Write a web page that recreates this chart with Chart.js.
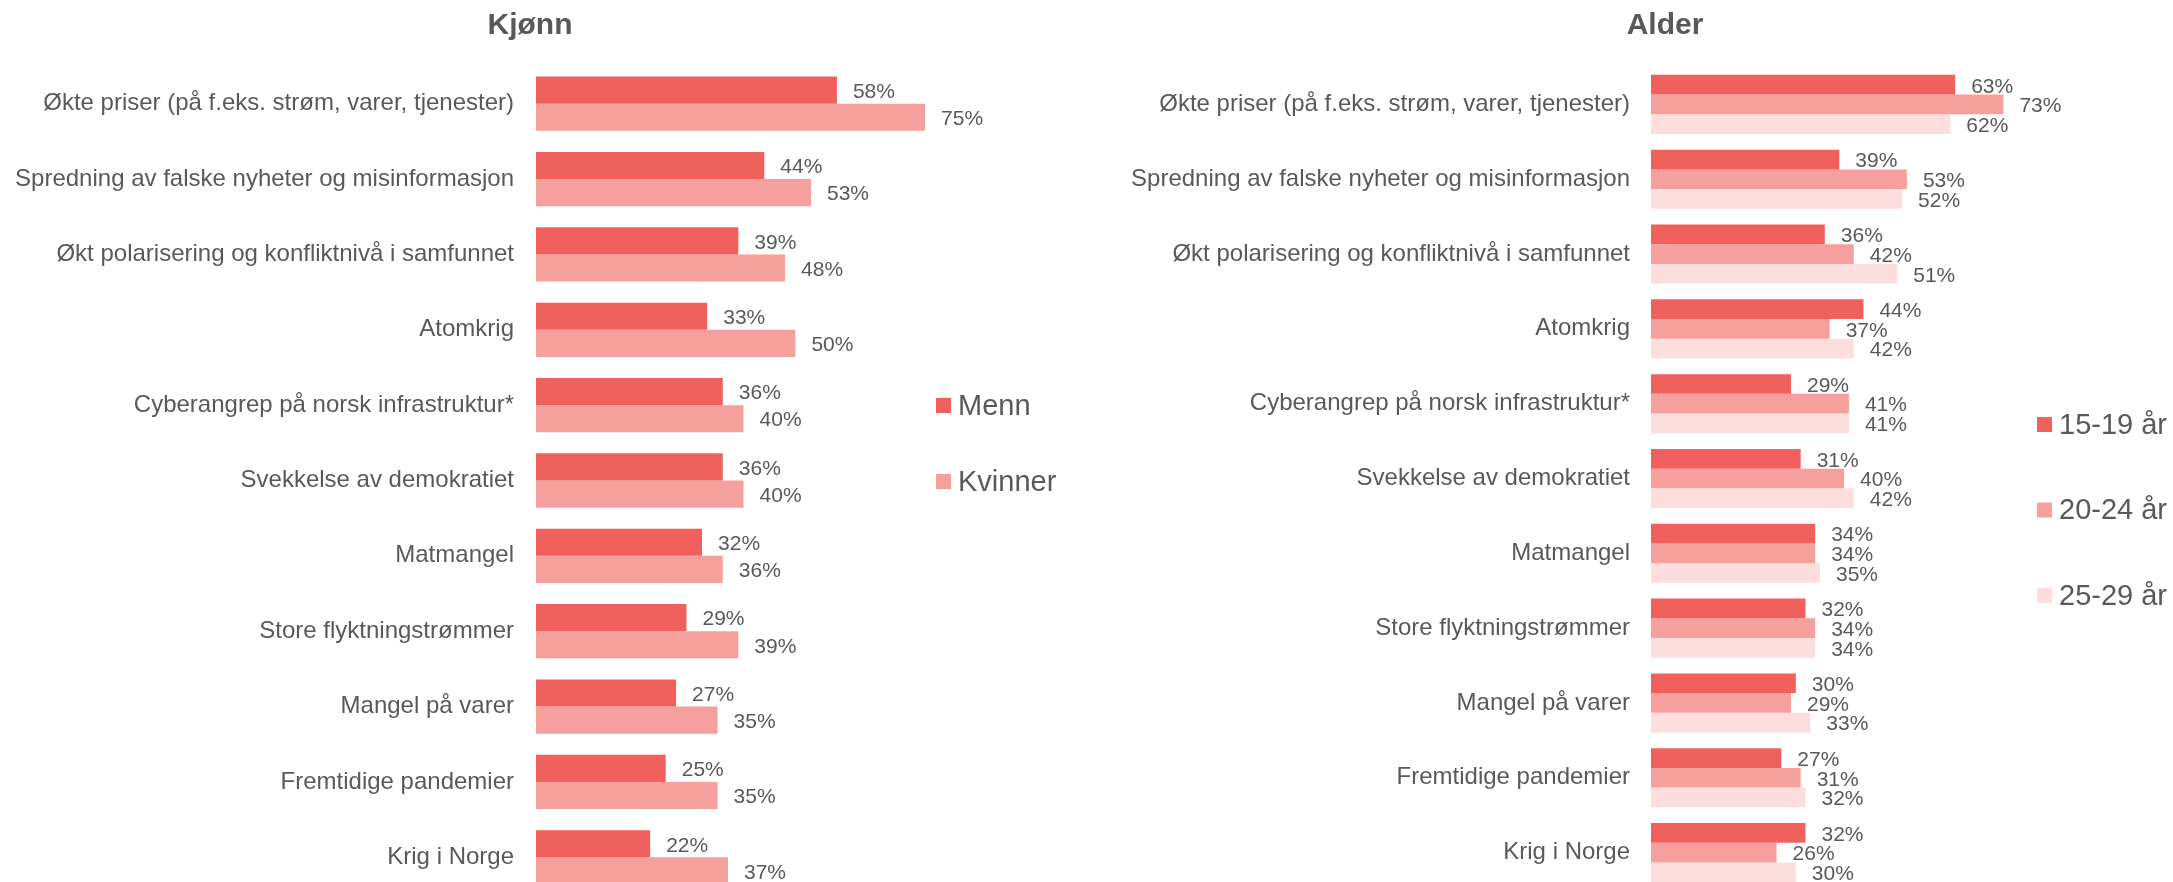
<!DOCTYPE html>
<html lang="no">
<head>
<meta charset="utf-8">
<title>Bekymringer etter kjønn og alder</title>
<script src="https://cdn.jsdelivr.net/npm/chart.js@4.4.1/dist/chart.umd.min.js"></script>
<style>
    html, body {
        margin: 0;
        padding: 0;
        width: 2173px;
        height: 882px;
        overflow: hidden;
        background: #ffffff;
    }
    .panel {
        position: absolute;
        top: 0;
    }
</style>
</head>
<body>
<div class="panel" style="left: 0px"><canvas id="kjonn" width="1060" height="895"></canvas></div>
<div class="panel" style="left: 1090px"><canvas id="alder" width="1150" height="890"></canvas></div>

<script>
const categories = [
    'Økte priser (på f.eks. strøm, varer, tjenester)',
    'Spredning av falske nyheter og misinformasjon',
    'Økt polarisering og konfliktnivå i samfunnet',
    'Atomkrig',
    'Cyberangrep på norsk infrastruktur*',
    'Svekkelse av demokratiet',
    'Matmangel',
    'Store flyktningstrømmer',
    'Mangel på varer',
    'Fremtidige pandemier',
    'Krig i Norge'
]

const menn = [58, 44, 39, 33, 36, 36, 32, 29, 27, 25, 22]
const kvinner = [75, 53, 48, 50, 40, 40, 36, 39, 35, 35, 37]

const alder1519 = [63, 39, 36, 44, 29, 31, 34, 32, 30, 27, 32]
const alder2024 = [73, 53, 42, 37, 41, 40, 34, 34, 29, 31, 26]
const alder2529 = [62, 52, 51, 42, 41, 42, 35, 34, 33, 32, 30]

const textColor = '#595959'
const fontFamily = '"Liberation Sans", Arial, Helvetica, sans-serif'
const colors = ['#F0605D', '#F6A09D', '#FCDEDF']

// values printed to the right of each bar
const valueLabels = {
    id: 'valueLabels',
    afterDatasetsDraw(chart, args, opts) {
        const ctx = chart.ctx
        ctx.save()
        ctx.font = `${opts.size}px ${fontFamily}`
        ctx.fillStyle = textColor
        ctx.textAlign = 'left'
        ctx.textBaseline = 'middle'
        chart.data.datasets.forEach((ds, i) => {
            chart.getDatasetMeta(i).data.forEach((bar, j) => {
                ctx.fillText(ds.data[j] + '%', bar.x + opts.gap, bar.y + 2)
            })
        })
        ctx.restore()
    }
}

// vertical legend placed beside the bars, like the original
const sideLegend = {
    id: 'sideLegend',
    afterDraw(chart, args, opts) {
        const ctx = chart.ctx
        ctx.save()
        ctx.font = `${opts.size}px ${fontFamily}`
        ctx.textAlign = 'left'
        ctx.textBaseline = 'middle'
        chart.data.datasets.forEach((ds, i) => {
            const top = opts.top + i * opts.spacing
            ctx.fillStyle = ds.backgroundColor
            ctx.fillRect(opts.x, top, opts.box, opts.box)
            ctx.fillStyle = textColor
            ctx.fillText(ds.label, opts.x + opts.box + opts.textGap, top + opts.box / 2 + 1)
        })
        ctx.restore()
    }
}

const buildChart = (id, title, dataSets, cfg) => new Chart(document.getElementById(id), {
    type: 'bar',
    data: {
        labels: categories,
        datasets: dataSets.map((ds, i) => ({
            label: ds.label,
            data: ds.data,
            backgroundColor: colors[i],
            borderWidth: 0,
            barPercentage: 1,
            categoryPercentage: cfg.categoryPercentage
        }))
    },
    options: {
        indexAxis: 'y',
        responsive: false,
        animation: false,
        layout: {padding: 0},
        plugins: {
            legend: {display: false},
            tooltip: {enabled: false},
            title: {
                display: true,
                text: title,
                color: textColor,
                font: {family: fontFamily, size: 30, weight: 'bold'},
                padding: {top: 8, bottom: cfg.titleBottom}
            },
            valueLabels: {size: 21, gap: 16},
            sideLegend: cfg.legend
        },
        scales: {
            x: {
                display: false,
                min: 0,
                max: cfg.xMax
            },
            y: {
                grid: {display: false, drawTicks: false},
                border: {display: false},
                ticks: {
                    color: textColor,
                    font: {family: fontFamily, size: 24},
                    padding: cfg.tickPadding,
                    autoSkip: false
                },
                afterFit(scale) {
                    // fixed label column, and no extra room kept below the last bar
                    scale.width = cfg.axisWidth
                    scale.paddingTop = 0
                    scale.paddingBottom = 0
                }
            }
        }
    },
    plugins: [valueLabels, sideLegend]
})

buildChart('kjonn', 'Kjønn', [
    {label: 'Menn', data: menn},
    {label: 'Kvinner', data: kvinner}
], {
    categoryPercentage: 0.72,
    xMax: 101,
    titleBottom: 22,
    tickPadding: 22,
    axisWidth: 536,
    legend: {x: 936, top: 398, spacing: 76, box: 15, textGap: 7, size: 29}
})

buildChart('alder', 'Alder', [
    {label: '15-19 år', data: alder1519},
    {label: '20-24 år', data: alder2024},
    {label: '25-29 år', data: alder2529}
], {
    categoryPercentage: 0.79,
    xMax: 122,
    titleBottom: 23,
    tickPadding: 21,
    axisWidth: 561,
    legend: {x: 947, top: 417, spacing: 85.5, box: 15, textGap: 7, size: 29}
})
</script>
</body>
</html>
